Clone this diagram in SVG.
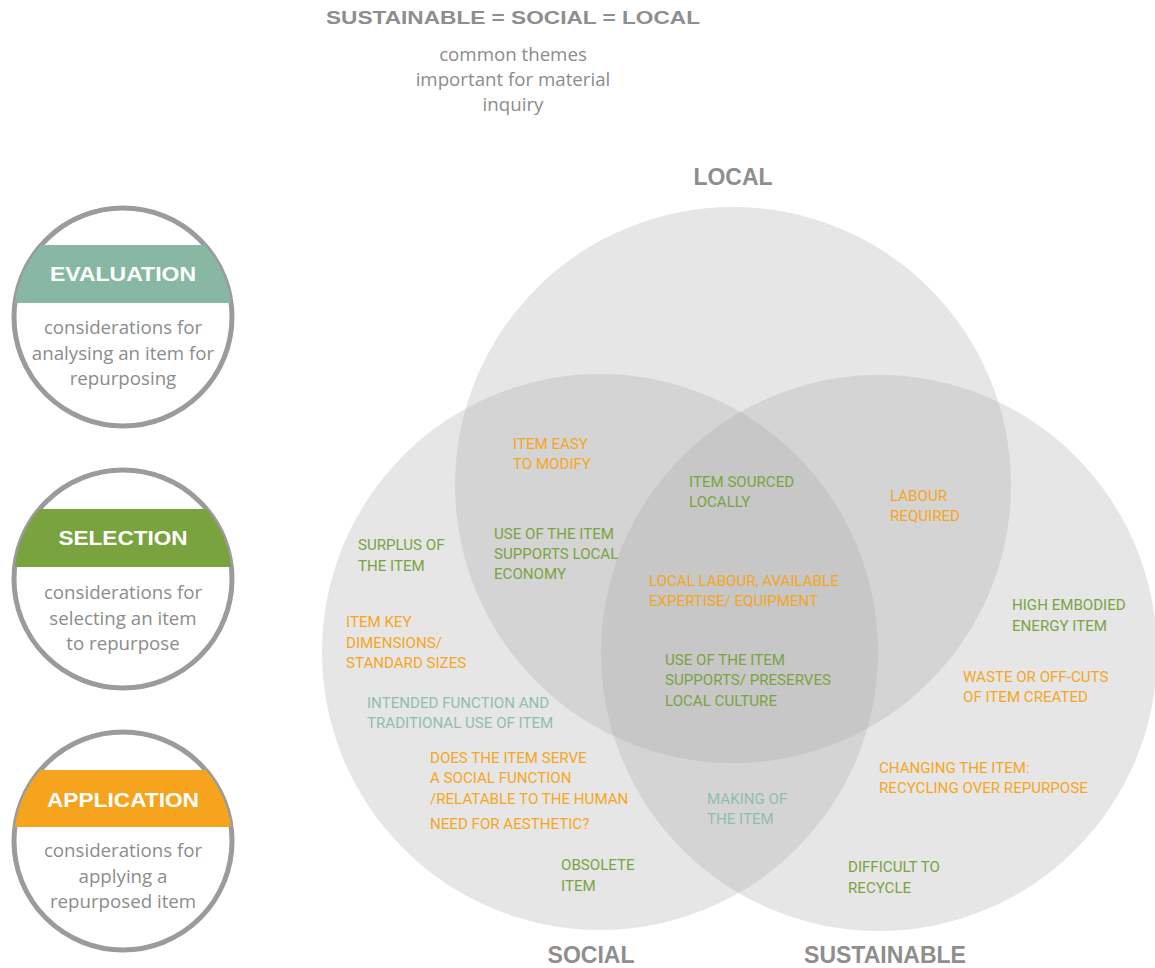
<svg xmlns="http://www.w3.org/2000/svg" width="1155" height="968" viewBox="0 0 1155 968">
<style>
.venn{fill:#a7a5a6;fill-opacity:0.28}
.lbl{font-family:"Liberation Sans",Arial,sans-serif;font-weight:bold;fill:#8e8e8e;text-anchor:middle}
.sub{font-family:"Open Sans","Noto Sans",sans-serif;font-size:18.7px;fill:#8c8c8c;text-anchor:middle}
.ring{fill:#fff;stroke:#9b9b9d;stroke-width:5}
.band{font-family:"Liberation Sans",Arial,sans-serif;font-weight:bold;font-size:20px;fill:#fff;text-anchor:middle}
.t{font-family:Roboto,"Liberation Sans",sans-serif;font-size:15.1px}
.o{fill:#f5a623}
.g{fill:#7aa342}
.c{fill:#8fbfab}
</style>
<defs>
<clipPath id="cE"><circle cx="123" cy="317" r="109"/></clipPath>
<clipPath id="cS"><circle cx="123" cy="579" r="109"/></clipPath>
<clipPath id="cA"><circle cx="123" cy="841" r="109"/></clipPath>
</defs>

<g id="title">
<text class="lbl" x="513" y="24" font-size="19" textLength="374" lengthAdjust="spacingAndGlyphs">SUSTAINABLE = SOCIAL = LOCAL</text>
<text class="sub" x="513" y="61">common themes</text>
<text class="sub" x="513" y="86">important for material</text>
<text class="sub" x="513" y="111">inquiry</text>
</g>

<g id="venn">
<circle id="local" class="venn" cx="733" cy="485" r="278"/>
<circle id="social" class="venn" cx="600" cy="652" r="278"/>
<circle id="sustainable" class="venn" cx="879" cy="653" r="278"/>
</g>

<g id="set-labels">
<text class="lbl" x="733" y="185" font-size="23">LOCAL</text>
<text class="lbl" x="591" y="963" font-size="23">SOCIAL</text>
<text class="lbl" x="885" y="963" font-size="23">SUSTAINABLE</text>
</g>

<g id="evaluation">
<circle class="ring" cx="123" cy="317" r="109"/>
<rect x="10" y="245" width="226" height="58" fill="#88b8a4" clip-path="url(#cE)"/>
<text class="band" x="123" y="281" textLength="146" lengthAdjust="spacingAndGlyphs">EVALUATION</text>
<text class="sub" x="123" y="334">considerations for</text>
<text class="sub" x="123" y="360">analysing an item for</text>
<text class="sub" x="123" y="385">repurposing</text>
</g>

<g id="selection">
<circle class="ring" cx="123" cy="579" r="109"/>
<rect x="10" y="509" width="226" height="58" fill="#79a33e" clip-path="url(#cS)"/>
<text class="band" x="123" y="545" textLength="129" lengthAdjust="spacingAndGlyphs">SELECTION</text>
<text class="sub" x="123" y="599">considerations for</text>
<text class="sub" x="123" y="625">selecting an item</text>
<text class="sub" x="123" y="650">to repurpose</text>
</g>

<g id="application">
<circle class="ring" cx="123" cy="841" r="109"/>
<rect x="10" y="770" width="226" height="57" fill="#f6a41e" clip-path="url(#cA)"/>
<text class="band" x="123" y="807" textLength="152" lengthAdjust="spacingAndGlyphs">APPLICATION</text>
<text class="sub" x="123" y="857">considerations for</text>
<text class="sub" x="123" y="883">applying a</text>
<text class="sub" x="123" y="908">repurposed item</text>
</g>

<g id="items">
<text class="t o" x="513" y="449">ITEM EASY</text>
<text class="t o" x="513" y="469">TO MODIFY</text>
<text class="t g" x="689" y="487">ITEM SOURCED</text>
<text class="t g" x="689" y="507">LOCALLY</text>
<text class="t o" x="890" y="501">LABOUR</text>
<text class="t o" x="890" y="521">REQUIRED</text>
<text class="t g" x="494" y="539">USE OF THE ITEM</text>
<text class="t g" x="494" y="559">SUPPORTS LOCAL</text>
<text class="t g" x="494" y="579">ECONOMY</text>
<text class="t g" x="358" y="550">SURPLUS OF</text>
<text class="t g" x="358" y="571">THE ITEM</text>
<text class="t o" x="649" y="586">LOCAL LABOUR, AVAILABLE</text>
<text class="t o" x="649" y="606">EXPERTISE/ EQUIPMENT</text>
<text class="t g" x="1012" y="610">HIGH EMBODIED</text>
<text class="t g" x="1012" y="631">ENERGY ITEM</text>
<text class="t o" x="346" y="627">ITEM KEY</text>
<text class="t o" x="346" y="648">DIMENSIONS/</text>
<text class="t o" x="346" y="668">STANDARD SIZES</text>
<text class="t g" x="665" y="665">USE OF THE ITEM</text>
<text class="t g" x="665" y="685">SUPPORTS/ PRESERVES</text>
<text class="t g" x="665" y="706">LOCAL CULTURE</text>
<text class="t o" x="963" y="682">WASTE OR OFF-CUTS</text>
<text class="t o" x="963" y="702">OF ITEM CREATED</text>
<text class="t c" x="367" y="708">INTENDED FUNCTION AND</text>
<text class="t c" x="367" y="728">TRADITIONAL USE OF ITEM</text>
<text class="t o" x="430" y="763">DOES THE ITEM SERVE</text>
<text class="t o" x="430" y="783">A SOCIAL FUNCTION</text>
<text class="t o" x="430" y="804">/RELATABLE TO THE HUMAN</text>
<text class="t o" x="430" y="829">NEED FOR AESTHETIC?</text>
<text class="t o" x="879" y="773">CHANGING THE ITEM:</text>
<text class="t o" x="879" y="793">RECYCLING OVER REPURPOSE</text>
<text class="t c" x="707" y="804">MAKING OF</text>
<text class="t c" x="707" y="824">THE ITEM</text>
<text class="t g" x="561" y="870">OBSOLETE</text>
<text class="t g" x="561" y="891">ITEM</text>
<text class="t g" x="848" y="872">DIFFICULT TO</text>
<text class="t g" x="848" y="893">RECYCLE</text>
</g>
</svg>
